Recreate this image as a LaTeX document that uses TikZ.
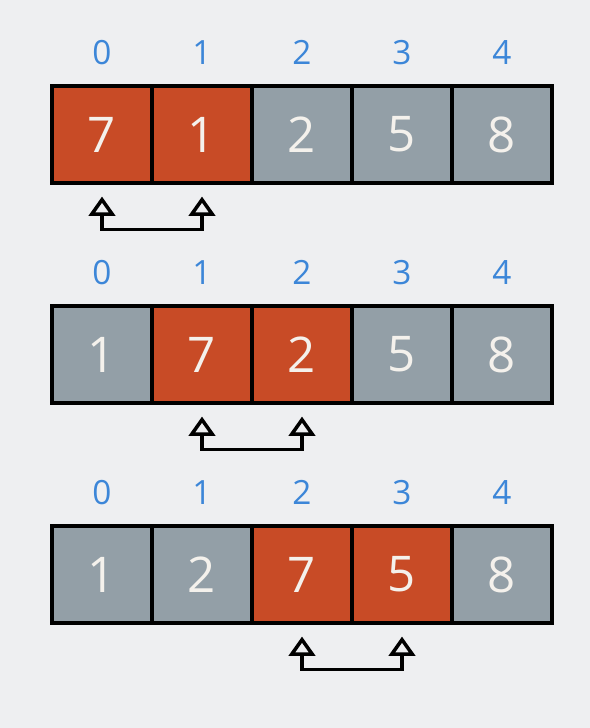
\documentclass[tikz,border=0pt]{standalone}
\usepackage{fontspec}
\setmainfont{Open Sans}
\usetikzlibrary{arrows.meta,positioning}
\definecolor{pagebg}{HTML}{EEEFF1}
\definecolor{swaporange}{HTML}{C84B26}
\definecolor{cellgray}{HTML}{939FA7}
\definecolor{digitwhite}{HTML}{F4F1EC}
\definecolor{indexblue}{HTML}{3C86D8}
\tikzstyle{cell} = [draw=black, line width=0.9pt, fill=cellgray, minimum width=1cm, minimum height=0.97cm, inner sep=0pt, text=digitwhite, font=\fontsize{14}{14}\selectfont]
\tikzstyle{hot} = [cell, fill=swaporange]
\tikzstyle{index} = [text=indexblue, font=\fontsize{9.5}{10}\selectfont]
\tikzstyle{swap} = [line width=1pt, {Triangle[open,width=7.5pt,length=5.5pt]}-{Triangle[open,width=7.5pt,length=5.5pt]}]

\begin{document}
\begin{tikzpicture}
\fill[pagebg] (0,0) rectangle (5.9,-7.28);
\useasboundingbox (0,0) rectangle (5.9,-7.28);
% one row of the array per pass
\foreach \row/\vals in {1/{7/hot,1/hot,2/cell,5/cell,8/cell},
                        2/{1/cell,7/hot,2/hot,5/cell,8/cell},
                        3/{1/cell,2/cell,7/hot,5/hot,8/cell}} {
    \foreach \v/\s [count=\i from 0] in \vals {
        \node (r\row c\i) [\s] at (1.02+\i, -1.345-2.2*\row+2.2) {\v};
        \node (i\row c\i) [index] at ([yshift=0.82cm]r\row c\i) {\i};
    }
}
% swapped pairs
\draw[swap] ([yshift=-0.12cm]r1c0.south) -- ++(0,-0.33) -| ([yshift=-0.12cm]r1c1.south);
\draw[swap] ([yshift=-0.12cm]r2c1.south) -- ++(0,-0.33) -| ([yshift=-0.12cm]r2c2.south);
\draw[swap] ([yshift=-0.12cm]r3c2.south) -- ++(0,-0.33) -| ([yshift=-0.12cm]r3c3.south);
\end{tikzpicture}
\end{document}
